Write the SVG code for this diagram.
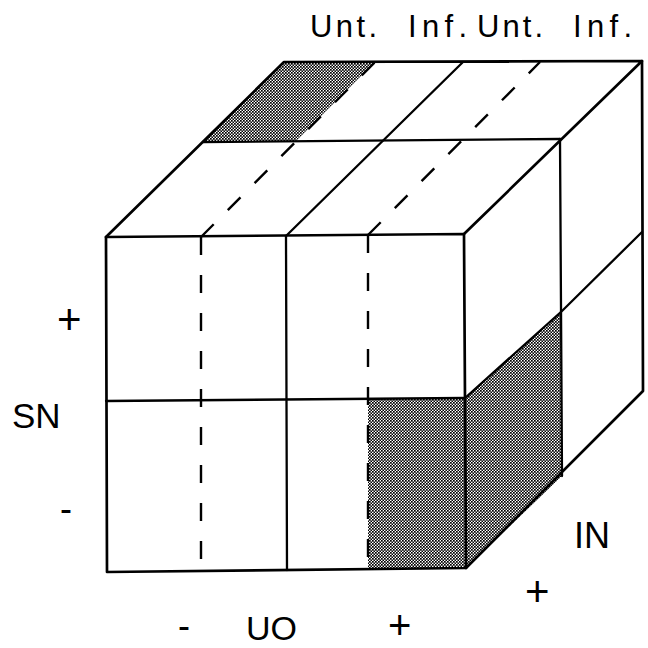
<svg xmlns="http://www.w3.org/2000/svg" width="648" height="648" viewBox="0 0 648 648">
<defs>
  <pattern id="dots" width="3" height="3" patternUnits="userSpaceOnUse">
    <rect width="3" height="3" fill="#ffffff"/>
    <rect x="0" y="0" width="1.7" height="1.7" fill="#000"/>
    <rect x="1.5" y="1.5" width="1.7" height="1.7" fill="#000"/>
  </pattern>
</defs>
<style>
  .edge { fill: none; stroke: #000; stroke-width: 2.7; stroke-linecap: round; stroke-linejoin: round; }
  .inner { fill: none; stroke: #000; stroke-width: 2.3; stroke-linecap: round; }
  .dash { fill: none; stroke: #000; stroke-width: 2.4; stroke-dasharray: 18 20; }
  .shade { fill: url(#dots); stroke: none; }
  .lbl { font-family: "Liberation Sans", Arial, sans-serif; fill: #000; }
</style>
<rect width="648" height="648" fill="#fff"/>

<g id="shading">
  <polygon class="shade" points="284,62 375,62 295,142 203,142"/>
  <polygon class="shade" points="368,399 465,398 466,568 368,569"/>
  <polygon class="shade" points="465,398 562,311 562,476 466,568"/>
</g>

<g id="cube-edges">
  <polygon class="edge" points="106,237 464,234 466,568 107,572"/>
  <polyline class="edge" points="106,237 284,62 642,61 464,234"/>
  <polyline class="edge" points="642,61 643,391 466,568"/>
</g>

<g id="dividers">
  <line class="inner" x1="106" y1="401" x2="465" y2="398"/>
  <line class="inner" x1="286" y1="236" x2="287" y2="570"/>
  <line class="inner" x1="203" y1="142" x2="560" y2="139"/>
  <line class="inner" x1="286" y1="236" x2="463" y2="62"/>
  <line class="inner" x1="560" y1="139" x2="562" y2="476"/>
  <polyline class="inner" points="465,398 562,311 642,232"/>
</g>

<g id="hidden-lines">
  <line class="dash" x1="201" y1="237" x2="201" y2="571"/>
  <line class="dash" x1="368" y1="235" x2="368" y2="569"/>
  <line class="dash" x1="201" y1="237" x2="375" y2="62"/>
  <line class="dash" x1="368" y1="235" x2="540" y2="62"/>
</g>

<g id="labels">
  <text class="lbl" x="310" y="37" font-size="31" textLength="67" lengthAdjust="spacing">Unt.</text>
  <text class="lbl" x="408" y="37" font-size="31" textLength="59" lengthAdjust="spacing">Inf.</text>
  <text class="lbl" x="477" y="37" font-size="31" textLength="66" lengthAdjust="spacing">Unt.</text>
  <text class="lbl" x="573" y="37" font-size="31" textLength="59" lengthAdjust="spacing">Inf.</text>
  <text class="lbl" x="57" y="334" font-size="42">+</text>
  <text class="lbl" x="12" y="428" font-size="35">SN</text>
  <text class="lbl" x="60" y="521" font-size="36">-</text>
  <text class="lbl" x="574" y="548" font-size="36">IN</text>
  <text class="lbl" x="525" y="606" font-size="42">+</text>
  <text class="lbl" x="178" y="638" font-size="36">-</text>
  <text class="lbl" x="246" y="640" font-size="34">UO</text>
  <text class="lbl" x="388" y="639" font-size="40">+</text>
</g>
</svg>
